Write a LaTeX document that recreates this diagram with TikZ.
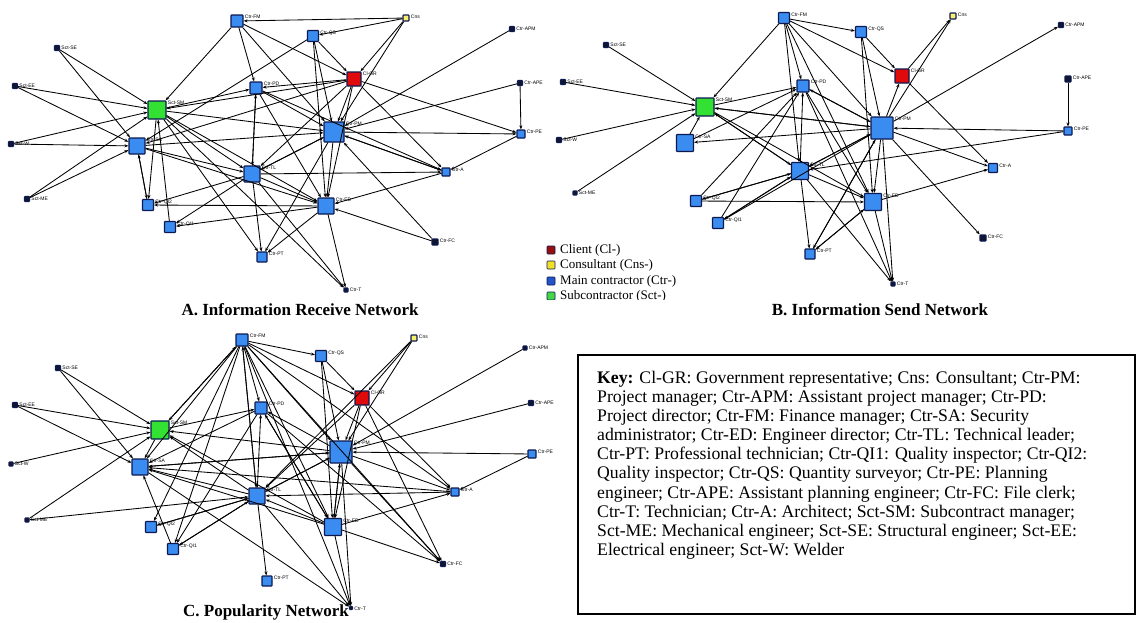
\documentclass[tikz,border=0pt]{standalone}
\usepackage{fontspec}
\setmainfont{Liberation Serif}
\newfontfamily\lblfont{Liberation Sans}
\usetikzlibrary{arrows.meta,positioning}
\definecolor{ndline}{RGB}{12,24,80}
\definecolor{ctrfill}{RGB}{58,140,240}
\definecolor{clfill}{RGB}{225,10,10}
\definecolor{cnsfill}{RGB}{245,240,110}
\definecolor{sctfill}{RGB}{50,225,50}
\definecolor{dkfill}{RGB}{16,22,48}
\definecolor{legred}{RGB}{150,15,15}
\definecolor{legyellow}{RGB}{240,225,40}
\definecolor{legblue}{RGB}{35,85,200}
\definecolor{leggreen}{RGB}{70,215,70}
\tikzset{
  netnode/.style={draw=ndline, line width=1.1pt, rounded corners=0.7pt, minimum size=#1pt, inner sep=0pt},
  netlbl/.style={font=\lblfont\fontsize{5}{5}\selectfont, inner sep=0.4pt, anchor=north west, xshift=0.8pt},
  netedge/.style={-{Stealth[length=4pt,width=3pt]}, line width=0.85pt, draw=black},
  nettitle/.style={font=\bfseries\fontsize{17}{17}\selectfont, inner sep=0pt},
  legsq/.style={draw=ndline, line width=0.6pt, rounded corners=0.8pt, minimum size=8pt, inner sep=0pt},
  legtxt/.style={font=\fontsize{13}{13}\selectfont, inner sep=0pt, anchor=west},
  keyframe/.style={draw=black, line width=1.5pt, inner sep=0pt, anchor=north west},
  keytext/.style={font=\fontsize{17.7}{19.1}\selectfont, align=left, inner sep=0pt, anchor=north west}
}
\begin{document}
\begin{tikzpicture}[x=1pt, y=-1pt]
  \useasboundingbox (0,0) rectangle (1138,622);

  % A. information receive network
  \foreach \n/\x/\y/\s/\col/\lab in {FM/237/21/12/ctrfill/Ctr-FM, Cns/406/18/6/cnsfill/Cns,
      QS/313/36/11/ctrfill/Ctr-QS, SE/57/48/5/dkfill/Sct-SE, GR/354/79/14/clfill/Cl-GR,
      EE/15/86/5/dkfill/Sct-EE, PD/256/88/12/ctrfill/Ctr-PD, SM/157/110/18/sctfill/Sct-SM,
      PM/334/132/20/ctrfill/Ctr-PM, W/11/144/5/dkfill/Sct-W, SA/137/146/16/ctrfill/Ctr-SA,
      TL/252/174/16/ctrfill/Ctr-TL, QI2/148/205/11/ctrfill/Ctr-QI2, ED/326/206/16/ctrfill/Ctr-ED,
      QI1/170/227/11/ctrfill/Ctr-QI1, ME/27/199/5/dkfill/Sct-ME, PT/262/257/10/ctrfill/Ctr-PT,
      T/346/290/4/dkfill/Ctr-T, FC/435/242/6/dkfill/Ctr-FC, APM/512/29/5/dkfill/Ctr-APM,
      APE/520/83/5/dkfill/Ctr-APE, PE/521/134/8/ctrfill/Ctr-PE, A/446/172/8/ctrfill/Ctr-A}
    \node[netnode=\s, fill=\col, label={[netlbl]north east:\lab}] (a\n) at (\x,\y) {};
  \foreach \u/\v in {Cns/FM, Cns/GR, Cns/PM, Cns/QS, FM/PD, FM/PM, FM/GR, FM/SM,
      QS/SA, QS/PM, QS/ED, QS/GR, GR/PD, GR/SA, GR/PM, GR/ED, GR/PE, GR/TL, GR/A, GR/SM,
      SE/SM, SE/SA, EE/SM, EE/SA, W/SA, W/SM, ME/SM, ME/SA,
      SM/PD, SM/PM, SM/TL, SM/ED, SM/PT, SM/QI2, QI1/SM, SM/T,
      SA/QI2, SA/TL, SA/ED, SA/PM, QI2/SA, PD/TL, PD/PM, PD/ED, PD/A,
      TL/PM, PM/TL, TL/ED, TL/QI2, TL/QI1, TL/PT, TL/T, TL/A,
      PM/ED, PM/PE, PM/A, A/PM, APM/PM, APE/PM, FC/PM, PM/PT,
      ED/QI2, ED/QI1, ED/PT, ED/T, FC/ED, A/ED, APE/PE, PE/A, TL/PD}
    \draw[netedge] (a\u) -- (a\v);
  \node[nettitle] (titleA) at (300,310) {A. Information Receive Network};

  % B. information send network
  \foreach \n/\x/\y/\s/\col/\lab in {FM/784/18/11/ctrfill/Ctr-FM, QS/861/32/11/ctrfill/Ctr-QS,
      Cns/953/16/6/cnsfill/Cns, APM/1061/25/5/dkfill/Ctr-APM, SE/606/45/5/dkfill/Sct-SE,
      EE/563/82/5/dkfill/Sct-EE, PD/803/86/12/ctrfill/Ctr-PD, GR/902/76/14/clfill/Cl-GR,
      APE/1068/79/6/dkfill/Ctr-APE, SM/705/107/18/sctfill/Sct-SM, PM/882/128/22/ctrfill/Ctr-PM,
      PE/1068/131/8/ctrfill/Ctr-PE, W/559/140/5/dkfill/Sct-W, SA/685/143/17/ctrfill/Ctr-SA,
      A/993/168/9/ctrfill/Ctr-A, TL/800/171/17/ctrfill/Ctr-TL, ME/575/193/4/dkfill/Sct-ME,
      QI2/696/201/11/ctrfill/Ctr-QI2, ED/873/202/17/ctrfill/Ctr-ED, QI1/718/223/11/ctrfill/Ctr-QI1,
      FC/983/238/6/dkfill/Ctr-FC, PT/810/254/10/ctrfill/Ctr-PT, T/893/284/4/dkfill/Ctr-T}
    \node[netnode=\s, fill=\col, label={[netlbl]north east:\lab}] (b\n) at (\x,\y) {};
  \foreach \u/\v in {FM/SM, FM/QS, FM/GR, FM/PM, FM/ED, FM/TL, QS/PM, QS/ED, QS/GR,
      GR/Cns, PM/Cns, PM/GR, GR/A, PM/APM, APE/PE, PE/PM, PE/TL,
      PM/A, PM/FC, PM/SA, PM/SM, PM/TL, TL/PM, PM/ED, PM/PT, PM/T, PM/PD, PM/QI1, ED/A,
      TL/PD, TL/SM, TL/ED, TL/QI2, TL/QI1, TL/PT, TL/T, SM/TL, SM/PD, SM/PM, SM/ED,
      SE/SM, EE/SM, W/SM, ME/SM, SA/SM, SA/PD, QI2/PD, QI2/ED, QI2/TL, QI1/PD, QI1/TL,
      PD/ED, PD/T, PD/PM, PT/ED, PT/PM, ED/T, ED/PT, FM/PD}
    \draw[netedge] (b\u) -- (b\v);
  \node[nettitle] (titleB) at (880,310) {B. Information Send Network};

  % C. popularity network
  \foreach \n/\x/\y/\s/\col/\lab in {FM/242/340/12/ctrfill/Ctr-FM, QS/321/356/11/ctrfill/Ctr-QS,
      Cns/414/338/6/cnsfill/Cns, APM/525/348/4/dkfill/Ctr-APM, SE/58/368/5/dkfill/Sct-SE,
      GR/362/398/14/clfill/Cl-GR, EE/15/405/5/dkfill/Sct-EE, PD/261/408/12/ctrfill/Ctr-PD,
      APE/531/403/5/dkfill/Ctr-APE, SM/160/430/18/sctfill/Sct-SM, PM/341/452/22/ctrfill/Ctr-PM,
      PE/532/454/8/ctrfill/Ctr-PE, W/11/464/4/dkfill/Sct-W, SA/140/467/16/ctrfill/Ctr-SA,
      A/455/492/8/ctrfill/Ctr-A, TL/257/496/16/ctrfill/Ctr-TL, ME/27/520/4/dkfill/Sct-ME,
      QI2/151/527/11/ctrfill/Ctr-QI2, ED/333/527/17/ctrfill/Ctr-ED, QI1/173/549/11/ctrfill/Ctr-QI1,
      FC/443/564/5/dkfill/Ctr-FC, PT/267/581/10/ctrfill/Ctr-PT, T/351/608/3/dkfill/Ctr-T}
    \node[netnode=\s, fill=\col, label={[netlbl]north east:\lab}] (c\n) at (\x,\y) {};
  \foreach \u/\v in {FM/SM, FM/SA, FM/QI2, FM/QI1, FM/TL, FM/PD, FM/QS, FM/GR, FM/PM,
      FM/ED, FM/A, FM/T, FM/FC, SM/FM, TL/FM, Cns/GR, Cns/PM, Cns/TL, QS/PM, QS/ED, QS/GR,
      GR/PM, GR/ED, GR/A, GR/TL, GR/FC, APM/PM, APE/PM, PE/PM, PE/A, A/SA, A/TL,
      PM/A, PM/FC, PM/T, PM/ED, ED/PM, PM/TL, PM/SM, PM/SA, PM/PD,
      ED/A, ED/FC, ED/T, ED/TL, ED/SA, ED/SM, ED/PD, TL/SA, TL/SM, TL/QI2, TL/QI1,
      TL/PT, TL/T, ME/TL, TL/PD, TL/PM, SE/SM, EE/SM, W/SM, ME/SM, SM/PD, SM/SA,
      SE/SA, EE/SA, QI1/SA, SA/PM, PD/QI1, PD/ED, PD/SA, PD/FC, QI2/TL, QI1/TL, SA/T}
    \draw[netedge] (c\u) -- (c\v);
  \node[nettitle] (titleC) at (266,612) {C. Popularity Network};

  % legend, cut at the bottom as in the source
  \begin{scope}
    \clip (530,238) rectangle (760,299);
    \node[legsq, fill=legred] (legcl) at (551,250) {};
    \node[legsq, fill=legyellow] (legcns) at (551,265) {};
    \node[legsq, fill=legblue] (legctr) at (551,281) {};
    \node[legsq, fill=leggreen] (legsct) at (551,296) {};
    \node[legtxt, right=9pt of legcl.center] (legclt) {Client (Cl-)};
    \node[legtxt, right=9pt of legcns.center] (legcnst) {Consultant (Cns-)};
    \node[legtxt, right=9pt of legctr.center] (legctrt) {Main contractor (Ctr-)};
    \node[legtxt, right=9pt of legsct.center] (legsctt) {Subcontractor (Sct-)};
  \end{scope}

  % key
  \node[keyframe, minimum width=557pt, minimum height=259pt] (keybox) at (577,354) {};
  \node[keytext] (keytxt) at (597,371) {\textbf{Key:} Cl-GR: Government representative; Cns: Consultant; Ctr-PM:\\
    Project manager; Ctr-APM: Assistant project manager; Ctr-PD:\\
    Project director; Ctr-FM: Finance manager; Ctr-SA: Security\\
    administrator; Ctr-ED: Engineer director; Ctr-TL: Technical leader;\\
    Ctr-PT: Professional technician; Ctr-QI1: Quality inspector; Ctr-QI2:\\
    Quality inspector; Ctr-QS: Quantity surveyor; Ctr-PE: Planning\\
    engineer; Ctr-APE: Assistant planning engineer; Ctr-FC: File clerk;\\
    Ctr-T: Technician; Ctr-A: Architect; Sct-SM: Subcontract manager;\\
    Sct-ME: Mechanical engineer; Sct-SE: Structural engineer; Sct-EE:\\
    Electrical engineer; Sct-W: Welder};
\end{tikzpicture}
\end{document}
